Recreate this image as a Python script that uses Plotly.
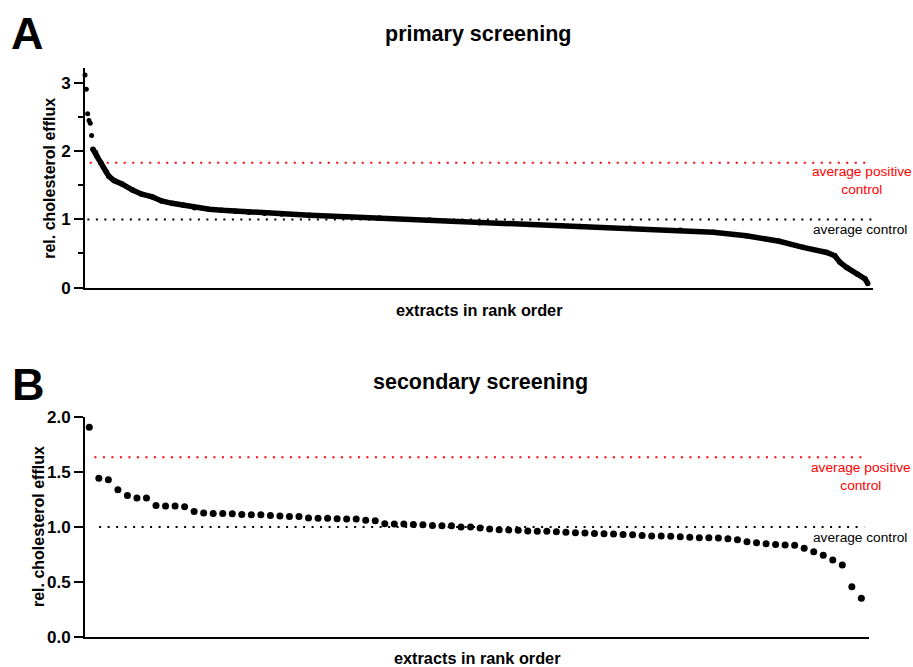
import plotly.graph_objects as go

# ---- primary screening: efflux relative to control, ranked ----
primary_rank = [1, 2, 3, 4, 5, 6,
                7, 9, 10, 13, 15, 17, 19, 23, 29, 37, 44, 52, 59, 67, 75, 84,
                95, 105, 115, 125, 137, 150, 171, 199, 224, 262, 300, 338, 376,
                414, 452, 477, 502, 527, 545, 563, 569, 573, 578, 586, 592, 594]
primary_efflux = [3.12, 2.91, 2.55, 2.45, 2.41, 2.23,
                  2.03, 1.98, 1.93, 1.83, 1.76, 1.70, 1.635, 1.57, 1.52, 1.43,
                  1.37, 1.33, 1.27, 1.236, 1.21, 1.17, 1.15, 1.134, 1.12, 1.105,
                  1.09, 1.08, 1.06, 1.04, 1.02, 0.99, 0.95, 0.925, 0.895, 0.87,
                  0.84, 0.81, 0.76, 0.68, 0.59, 0.515, 0.467, 0.37, 0.296, 0.20,
                  0.127, 0.06]
primary_outliers = 6          # leading hits drawn as separate dots
primary_pos_ctrl = 1.83
primary_ctrl = 1.0

# ---- secondary screening ----
secondary_efflux = [1.909, 1.445, 1.430, 1.339, 1.288, 1.264, 1.264, 1.197, 1.191,
                    1.191, 1.185, 1.142, 1.127, 1.124, 1.124, 1.121, 1.115, 1.112,
                    1.112, 1.106, 1.100, 1.097, 1.097, 1.082, 1.079, 1.079, 1.076,
                    1.073, 1.073, 1.061, 1.058,
                    1.030, 1.027, 1.027, 1.024, 1.021, 1.015, 1.012, 1.012, 1.000,
                    1.000, 0.991, 0.982, 0.976, 0.973, 0.970, 0.964, 0.961, 0.961,
                    0.958, 0.952, 0.948, 0.945, 0.942, 0.939, 0.936, 0.933, 0.930,
                    0.924, 0.918, 0.918,
                    0.915, 0.912, 0.906, 0.903, 0.903, 0.900, 0.894, 0.885, 0.867,
                    0.858, 0.848, 0.842, 0.836, 0.833, 0.806, 0.776, 0.742, 0.700,
                    0.655, 0.455, 0.352]
secondary_rank = list(range(1, len(secondary_efflux) + 1))
secondary_pos_ctrl = 1.635
secondary_ctrl = 1.0

# page layout: figure starts below the body margin and is shown slightly
# compressed vertically, so screen rows are converted to figure rows
W, H = 913, 684
TOP = 7.8
VSCALE = 0.9744
FONT = "Liberation Sans, Arial, Helvetica, sans-serif"


def px_x(p):
    return p / W


def px_y(p):
    return 1 - ((p - TOP) / VSCALE) / H


fig = go.Figure()

# primary: leading outliers as dots, remaining dense ranks as a thick band
fig.add_trace(go.Scatter(
    x=primary_rank[:primary_outliers], y=primary_efflux[:primary_outliers],
    mode="markers", marker=dict(color="black", size=5),
    cliponaxis=False, xaxis="x", yaxis="y", showlegend=False))
fig.add_trace(go.Scatter(
    x=primary_rank[primary_outliers:], y=primary_efflux[primary_outliers:],
    mode="lines+markers", line=dict(color="black", width=5.5),
    marker=dict(color="black", size=5.5),
    cliponaxis=False, xaxis="x", yaxis="y", showlegend=False))

# secondary: individual extracts
fig.add_trace(go.Scatter(
    x=secondary_rank, y=secondary_efflux,
    mode="markers", marker=dict(color="black", size=7),
    cliponaxis=False, xaxis="x2", yaxis="y2", showlegend=False))

# reference lines
dot = "2px,6.5px"
for xr, yr, x0, x1, val, col in [
    ("x domain", "y", 0.006, 0.998, primary_pos_ctrl, "red"),
    ("x domain", "y", 0.003, 0.998, primary_ctrl, "black"),
    ("x2 domain", "y2", 0.012, 0.994, secondary_pos_ctrl, "red"),
    ("x2 domain", "y2", 0.018, 0.994, secondary_ctrl, "black"),
]:
    fig.add_shape(type="line", xref=xr, yref=yr, x0=x0, x1=x1, y0=val, y1=val,
                  line=dict(color=col, width=2, dash=dot), layer="below")

axis_common = dict(showgrid=False, zeroline=False, showline=True,
                   linecolor="black", linewidth=2)

fig.update_layout(
    width=W, height=H,
    margin=dict(l=0, r=0, t=0, b=0),
    paper_bgcolor="white", plot_bgcolor="white",
    font=dict(family=FONT, color="black"),
    xaxis=dict(domain=[px_x(85), px_x(873)], range=[1, 598], anchor="y",
               showticklabels=False, ticks="", **axis_common),
    yaxis=dict(domain=[px_y(287), px_y(67)], range=[0, 3.22], anchor="x",
               tickvals=[0, 1, 2, 3], ticks="outside", ticklen=9, tickwidth=2,
               tickcolor="black",
               minor=dict(tickvals=[0.5, 1.5, 2.5], ticks="outside", ticklen=5,
                          tickwidth=2, tickcolor="black"),
               tickfont=dict(family=FONT, size=17, weight="bold"),
               **axis_common),
    xaxis2=dict(domain=[px_x(85), px_x(869)], range=[0.55, 82.8], anchor="y2",
                showticklabels=False, ticks="", **axis_common),
    yaxis2=dict(domain=[px_y(637), px_y(417)], range=[0, 2.0], anchor="x2",
                tickvals=[0, 0.5, 1.0, 1.5, 2.0], tickformat=".1f",
                ticks="outside", ticklen=9, tickwidth=2, tickcolor="black",
                tickfont=dict(family=FONT, size=17, weight="bold"),
                **axis_common),
)


def label(text, x, y, size, color="black", bold=True, angle=0):
    fig.add_annotation(
        text=text, x=px_x(x), y=px_y(y), xref="paper", yref="paper",
        xanchor="center", yanchor="middle", showarrow=False, textangle=angle,
        align="center",
        font=dict(family=FONT, size=size, color=color,
                  weight="bold" if bold else "normal"))


# panel letters
fig.add_annotation(text="A", x=px_x(9), y=px_y(32), xref="paper", yref="paper",
                   xanchor="left", yanchor="middle", showarrow=False,
                   font=dict(family=FONT, size=45, weight="bold"))
fig.add_annotation(text="B", x=px_x(10), y=px_y(384), xref="paper", yref="paper",
                   xanchor="left", yanchor="middle", showarrow=False,
                   font=dict(family=FONT, size=45, weight="bold"))

# titles
label("primary screening", 478, 33, 21.5)
label("secondary screening", 480, 382, 21.5)
label("extracts in rank order", 479, 309, 16.3)
label("extracts in rank order", 477, 658, 16.3)
label("rel. cholesterol efflux", 50, 178, 16, angle=-90)
label("rel. cholesterol efflux", 38, 527, 16, angle=-90)

# reference line captions
label("average positive<br>control", 862, 180, 13.7, color="red", bold=False)
label("average control", 860, 229, 13.7, bold=False)
label("average positive<br>control", 861, 476, 13.7, color="red", bold=False)
label("average control", 860, 537, 13.7, bold=False)

fig.write_html("out.html")
